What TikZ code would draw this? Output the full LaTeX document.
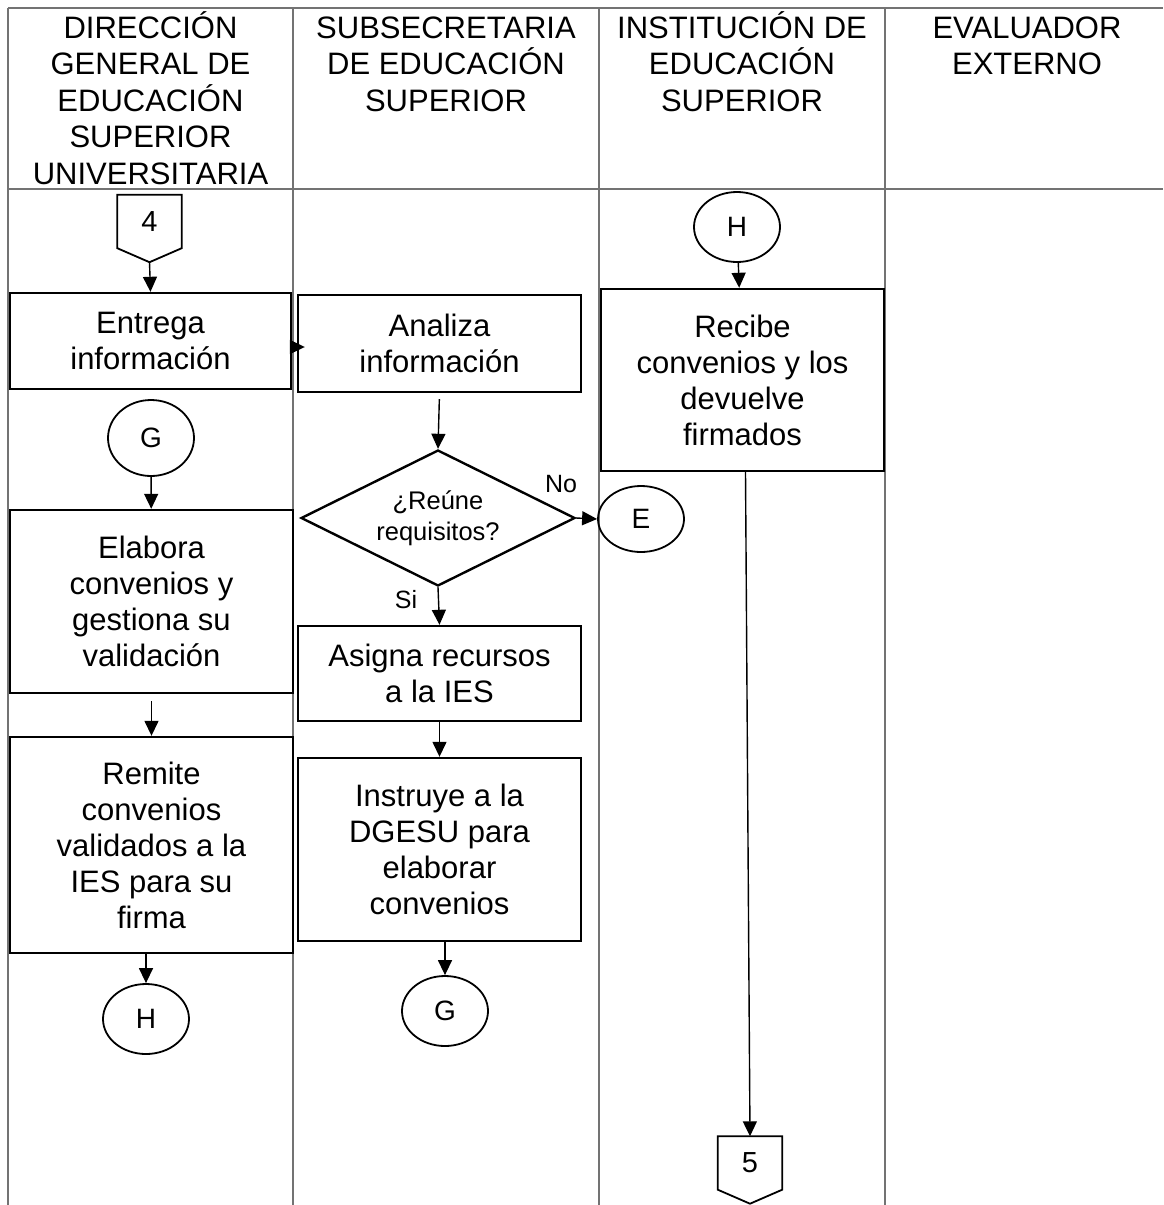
\documentclass[tikz,border=0pt]{standalone}
\usepackage{fontspec}
\setmainfont{Liberation Sans}
\usetikzlibrary{shapes.geometric,arrows.meta}
\tikzstyle{lane}=[draw=black!55, line width=1.5pt]
\tikzstyle{head}=[anchor=north, align=center, inner sep=0pt, font=\fontsize{31}{36.5}\selectfont]
\tikzstyle{proc}=[draw, line width=2.4pt, align=center, inner sep=0pt, font=\fontsize{31}{36}\selectfont]
\tikzstyle{decision}=[draw, diamond, aspect=2, line width=2.4pt, align=center, inner sep=0pt,
    minimum width=274pt, minimum height=136pt, font=\fontsize{25.5}{31}\selectfont]
\tikzstyle{conn}=[draw, ellipse, line width=1.8pt, inner sep=0pt, minimum width=86pt, font=\fontsize{28}{30}\selectfont]
\tikzstyle{offpage}=[inner sep=0pt, minimum width=64pt, minimum height=53pt, font=\fontsize{29}{30}\selectfont]
\tikzstyle{flow}=[-{Triangle[length=15pt,width=14pt]}, line width=1.4pt]
\tikzstyle{tag}=[inner sep=0pt, font=\fontsize{25}{30}\selectfont]

\begin{document}
\begin{tikzpicture}[x=1pt,y=-1pt]

    \useasboundingbox (0,0) rectangle (1163,1205);

    \draw[lane] (8,8) -- (1163,8);
    \draw[lane] (8,189) -- (1163,189);
    \foreach \x in {8,293,599,885}
        \draw[lane] (\x,8) -- (\x,1205);

    \node[head] (hdgesu) at (150.5,11) {\vphantom{Ó}DIRECCIÓN\\GENERAL DE\\EDUCACIÓN\\SUPERIOR\\UNIVERSITARIA};
    \node[head] (hses)   at (446,11)   {\vphantom{Ó}SUBSECRETARIA\\DE EDUCACIÓN\\SUPERIOR};
    \node[head] (hies)   at (742,11)   {\vphantom{Ó}INSTITUCIÓN DE\\EDUCACIÓN\\SUPERIOR};
    \node[head] (heval)  at (1027,11)  {\vphantom{Ó}EVALUADOR\\EXTERNO};

    \node[offpage] (c4) at (149.5,221.5) {4};
    \draw[line width=1.8pt] (c4.north west) -- (c4.north east) -- (c4.south east)
        -- ([yshift=-14pt]c4.south) -- (c4.south west) -- cycle;
    \node[offpage] (c5) at (750,1163) {5};
    \draw[line width=1.8pt] (c5.north west) -- (c5.north east) -- (c5.south east)
        -- ([yshift=-14pt]c5.south) -- (c5.south west) -- cycle;

    \node[proc, minimum width=281pt, minimum height=96pt]  (entrega)  at (150.5,341)   {Entrega\\información};
    \node[conn, minimum height=76pt]                       (gleft)    at (151,438)     {G};
    \node[proc, minimum width=283pt, minimum height=183pt] (elabora)  at (151.5,601.5) {Elabora\\convenios y\\gestiona su\\validación};
    \node[proc, minimum width=283pt, minimum height=216pt] (remite)   at (151.5,845)   {Remite\\convenios\\validados a la\\IES para su\\firma};
    \node[conn, minimum height=70pt]                       (hleft)    at (146,1019)    {H};

    \node[proc, minimum width=283pt, minimum height=97pt]  (analiza)  at (439.5,343.5) {Analiza\\información};
    \node[decision]                                        (reune)    at (438,518)     {¿Reúne\\requisitos?};
    \node[proc, minimum width=283pt, minimum height=95pt]  (asigna)   at (439.5,673.5) {Asigna recursos\\a la IES};
    \node[proc, minimum width=283pt, minimum height=183pt] (instruye) at (439.5,849.5) {Instruye a la\\DGESU para\\elaborar\\convenios};
    \node[conn, minimum height=70pt]                       (gmid)     at (445,1011)    {G};

    \node[conn, minimum height=70pt]                       (hright)   at (737,227)     {H};
    \node[proc, minimum width=283pt, minimum height=182pt] (recibe)   at (742.5,380)   {Recibe\\convenios y los\\devuelve\\firmados};
    \node[conn, minimum height=66pt]                       (e)        at (641,519)     {E};

    \draw[flow] ([yshift=-14pt]c4.south) -- (entrega.north);
    \draw[flow, shorten >=-8pt] ([yshift=-6pt]entrega.east) -- ([yshift=-3.5pt]analiza.west);
    \draw[flow] (gleft) -- (elabora);
    \draw[flow, shorten <=7pt] (elabora) -- (remite);
    \draw[flow] (hleft.north |- remite.south) -- (hleft.north);
    \draw[flow, shorten <=6pt] (analiza.south) -- (reune.north);
    \draw[flow] (reune.east) -- (e.west);
    \draw[flow] (reune.south) -- (asigna.north);
    \draw[flow] (asigna) -- (instruye);
    \draw[flow] (gmid.north |- instruye.south) -- (gmid.north);
    \draw[flow] (hright) -- (recibe);
    \draw[flow] ([xshift=3pt]recibe.south) -- (c5.north);

    \node[tag] (lno) at (561,484) {No};
    \node[tag] (lsi) at (406,600) {Si};

\end{tikzpicture}
\end{document}
